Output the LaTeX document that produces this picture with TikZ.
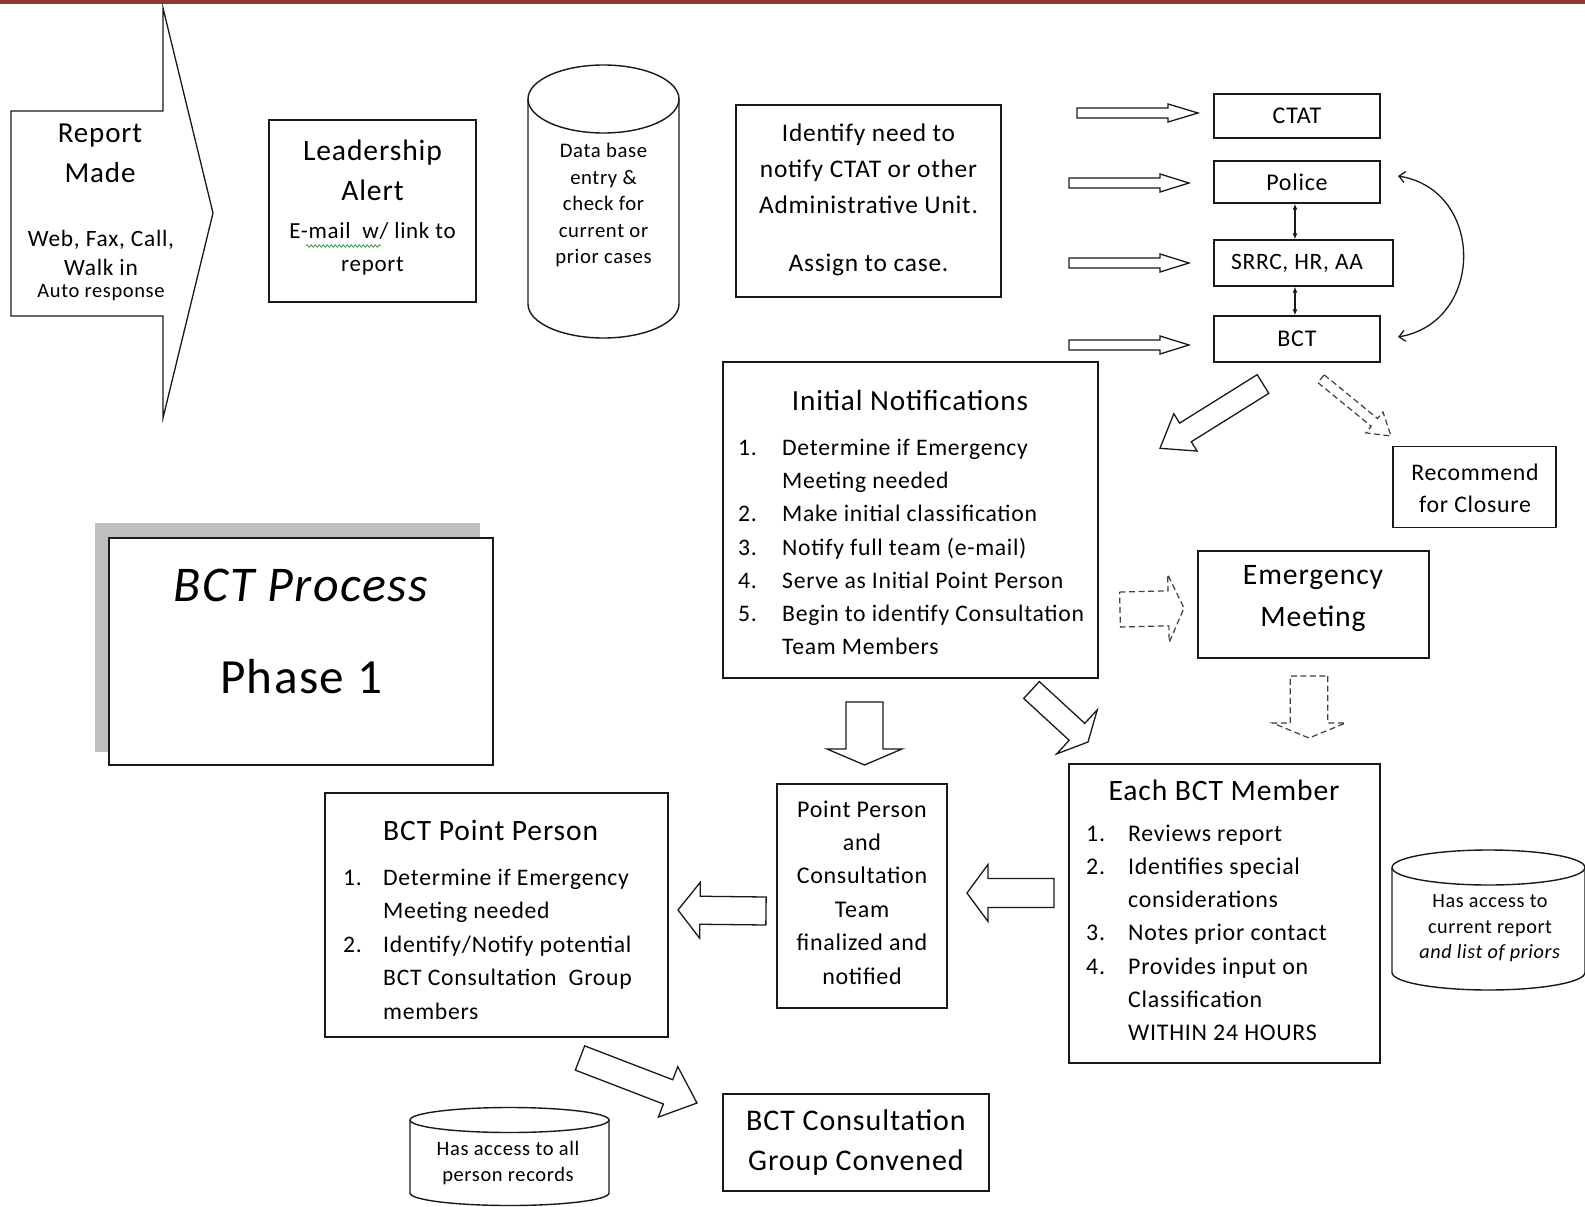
\documentclass[tikz,border=0pt]{standalone}
\usepackage{fontspec}
\setmainfont{Carlito}[LetterSpace=3]
\usetikzlibrary{calc,arrows.meta,decorations.pathmorphing}
\newcommand{\myfs}[2]{\fontsize{#1}{#2}\selectfont}
\newcommand{\lnum}[2]{\makebox[#1][l]{#2}}
\newcommand{\blockarr}[6]{%
  \path (#2) coordinate (ba-s) (#3) coordinate (ba-e);
  \path ($(ba-e)!#6!(ba-s)$) coordinate (ba-h);
  \draw[#1] ($(ba-s)!#4!90:(ba-e)$) -- ($(ba-h)!#4!-90:(ba-s)$) -- ($(ba-h)!#5!-90:(ba-s)$) -- (ba-e) -- ($(ba-h)!#5!90:(ba-s)$) -- ($(ba-h)!#4!90:(ba-s)$) -- ($(ba-s)!#4!-90:(ba-e)$) -- cycle;}
\definecolor{topred}{RGB}{148,54,52}
\definecolor{lineclr}{RGB}{25,25,25}
\definecolor{shadowgray}{RGB}{191,191,191}
\definecolor{spellgreen}{RGB}{60,170,60}
\tikzset{
  bx/.style={draw=lineclr, line width=1.4pt, inner sep=0pt, fill=white},
  tx/.style={inner sep=0pt, align=center, text=black},
  txl/.style={inner sep=0pt, align=left, anchor=west, text=black},
  barrow/.style={draw=lineclr, line width=1.3pt, fill=white, line join=miter},
  darrow/.style={draw=black!75, line width=1.2pt, dash pattern=on 6pt off 3.5pt, line join=miter},
  tinytip/.style={{Latex[length=6pt,width=5pt]}-{Latex[length=6pt,width=5pt]}, line width=1.3pt, draw=lineclr},
  curvtip/.style={{Straight Barb[length=6pt,width=11pt]}-{Straight Barb[length=6pt,width=11pt]}, line width=1.3pt, draw=lineclr},
}
\begin{document}
\begin{tikzpicture}[x=1pt,y=-1pt]
\useasboundingbox (0,0) rectangle (1585,1207);
\fill[white] (0,0) rectangle (1585,1207);
\fill[topred] (0,0) rectangle (1585,4);

% Report Made block arrow
\draw[barrow] (11,111) -- (163,111) -- (163,8) -- (213,213) -- (163,418) -- (163,316) -- (11,316) -- cycle;
\node[tx, font=\myfs{29}{40}] (rmt) at (100,153) {Report\\Made};
\node[tx, font=\myfs{23.4}{29}] (rms) at (101,252.5) {Web, Fax, Call,\\Walk in};
\node[tx, font=\myfs{20.5}{24}] (rma) at (101,293) {Auto response};

% Leadership Alert
\node[bx, minimum width=207pt, minimum height=182pt] (lead) at (372.5,211) {};
\node[tx, font=\myfs{29.6}{40}] (leadt) at (372.5,170) {Leadership\\Alert};
\node[tx, font=\myfs{23}{33}] (leads) at (372.5,248.5) {E-mail\ \ w/ link to\\report};
\draw[spellgreen, line width=0.9pt, decorate, decoration={snake, amplitude=1.2pt, segment length=4pt}] (306,246) -- (381,246);

% Database cylinder
\draw[lineclr, line width=1.4pt, fill=white] (528,99) -- (528,304) arc[start angle=180, end angle=360, x radius=75.5pt, y radius=34pt] -- (679,99);
\draw[lineclr, line width=1.4pt] (603.5,99) ellipse [x radius=75.5pt, y radius=34pt];
\node[tx, font=\myfs{20.7}{26.5}] (dbt) at (603.5,205) {Data base\\entry \&\\check for\\current or\\prior cases};

% Identify box
\node[bx, minimum width=265pt, minimum height=192pt] (ident) at (868.5,201) {};
\node[tx, font=\myfs{25.4}{36}] (idt) at (868.5,169) {Identify need to\\notify CTAT or other\\Administrative Unit.};
\node[tx, font=\myfs{25.4}{30}] (ida) at (868.5,265) {Assign to case.};

% Right column boxes
\node[bx, minimum width=166pt, minimum height=44pt, font=\myfs{24}{27}] (ctat) at (1297,116) {CTAT};
\node[bx, minimum width=166pt, minimum height=42pt, font=\myfs{24}{27}] (police) at (1297,182) {Police};
\node[bx, minimum width=179pt, minimum height=46pt] (srrc) at (1303.5,263) {};
\node[tx, font=\myfs{23.5}{27}] (srrct) at (1297,263) {SRRC, HR, AA};
\node[bx, minimum width=166pt, minimum height=46pt, font=\myfs{24}{27}] (bct) at (1297,339) {BCT};

\draw[tinytip] (police.south -| 1295,0) -- (srrc.north -| 1295,0);
\draw[tinytip] (srrc.south -| 1295,0) -- (bct.north -| 1295,0);

\coordinate (ca) at (1398,176);
\coordinate (cb) at (1398,337);
\draw[curvtip] (ca) .. controls (1485,190) and (1485,322) .. (cb);

% thin arrows into right column
\coordinate (a1s) at (1077,113); \coordinate (a1e) at (1198,113);
\coordinate (a2s) at (1069,183); \coordinate (a2e) at (1189,183);
\coordinate (a3s) at (1069,263); \coordinate (a3e) at (1189,263);
\coordinate (a4s) at (1069,345); \coordinate (a4e) at (1189,345);
\blockarr{barrow}{a1s}{a1e}{5pt}{9pt}{30pt}
\blockarr{barrow}{a2s}{a2e}{5pt}{9pt}{29pt}
\blockarr{barrow}{a3s}{a3e}{5pt}{9pt}{29pt}
\blockarr{barrow}{a4s}{a4e}{5pt}{9pt}{29pt}

% Initial Notifications
\node[bx, minimum width=375pt, minimum height=316pt] (initn) at (910.5,520) {};
\node[tx, font=\myfs{29.2}{33}] (int) at (910,400) {Initial Notifications};
\node[txl, font=\myfs{23.7}{33.2}] (inl) at (738,547) {%
\lnum{44pt}{1.}Determine if Emergency\\
\hspace*{44pt}Meeting needed\\
\lnum{44pt}{2.}Make initial classification\\
\lnum{44pt}{3.}Notify full team (e-mail)\\
\lnum{44pt}{4.}Serve as Initial Point Person\\
\lnum{44pt}{5.}Begin to identify Consultation\\
\hspace*{44pt}Team Members};

% arrows from BCT
\coordinate (b1s) at (1263,384); \coordinate (b1e) at (1160,448.3);
\blockarr{barrow}{b1s}{b1e}{11pt}{22pt}{30pt}
\coordinate (b2s) at (1321,378.7); \coordinate (b2e) at (1391,436);
\blockarr{darrow}{b2s}{b2e}{5pt}{13.5pt}{21.5pt}

% Recommend for Closure
\node[bx, minimum width=163pt, minimum height=80.6pt] (recom) at (1474.5,487) {};
\node[tx, font=\myfs{23.8}{32.3}] (rct) at (1475,488) {Recommend\\for Closure};

% Emergency Meeting
\node[bx, minimum width=231pt, minimum height=107pt] (emerg) at (1313.5,604.5) {};
\node[tx, font=\myfs{29.7}{42}] (emt) at (1313,599) {Emergency\\Meeting};
\coordinate (c1s) at (1120,609.5); \coordinate (c1e) at (1184,608);
\blockarr{darrow}{c1s}{c1e}{17.5pt}{34pt}{15.6pt}
\coordinate (c2s) at (1309,676); \coordinate (c2e) at (1309,738);
\blockarr{darrow}{c2s}{c2e}{18.75pt}{36.5pt}{15pt}

% arrows below Initial Notifications
\coordinate (d1s) at (864.5,702); \coordinate (d1e) at (864.5,765);
\blockarr{barrow}{d1s}{d1e}{18.5pt}{37.5pt}{16pt}
\coordinate (d2s) at (1031.5,690); \coordinate (d2e) at (1088,742);
\blockarr{barrow}{d2s}{d2e}{11.5pt}{30pt}{15pt}

% Point Person and Consultation Team
\node[bx, minimum width=170pt, minimum height=224pt] (ppct) at (862,896) {};
\node[tx, font=\myfs{24}{33.4}] (ppt) at (862,892.5) {Point Person\\and\\Consultation\\Team\\finalized and\\notified};

% Each BCT Member
\node[bx, minimum width=311pt, minimum height=299pt] (each) at (1224.5,913.5) {};
\node[tx, font=\myfs{29.6}{33}] (ebt) at (1224,790) {Each BCT Member};
\node[txl, font=\myfs{23.9}{33.2}] (ebl) at (1086,932.7) {%
\lnum{42pt}{1.}Reviews report\\
\lnum{42pt}{2.}Identifies special\\
\hspace*{42pt}considerations\\
\lnum{42pt}{3.}Notes prior contact\\
\lnum{42pt}{4.}Provides input on\\
\hspace*{42pt}Classification\\
\hspace*{42pt}WITHIN 24 HOURS};

% right cylinder
\draw[lineclr, line width=1.4pt, fill=white] (1392,867.5) -- (1392,972.5) arc[start angle=180, end angle=360, x radius=96.5pt, y radius=17.5pt] -- (1585,867.5);
\draw[lineclr, line width=1.4pt] (1488.5,867.5) ellipse [x radius=96.5pt, y radius=17.5pt];
\node[tx, font=\myfs{20.2}{25.5}] (cyl2t) at (1490,928.5) {Has access to\\current report\\\textit{and list of priors}};

% arrows between lower boxes
\coordinate (e1s) at (1054,893); \coordinate (e1e) at (967,893);
\blockarr{barrow}{e1s}{e1e}{14.5pt}{28.5pt}{21pt}
\coordinate (e2s) at (766,911); \coordinate (e2e) at (678,910);
\blockarr{barrow}{e2s}{e2e}{14pt}{28pt}{22pt}

% BCT Point Person
\node[bx, minimum width=343pt, minimum height=244pt] (bctpp) at (496.5,915) {};
\node[txl, font=\myfs{29.5}{33}] (bppt) at (383,830) {BCT Point Person};
\node[txl, font=\myfs{23.7}{33.5}] (bppl) at (343,944) {%
\lnum{40pt}{1.}Determine if Emergency\\
\hspace*{40pt}Meeting needed\\
\lnum{40pt}{2.}Identify/Notify potential\\
\hspace*{40pt}BCT Consultation\ \ Group\\
\hspace*{40pt}members};

% arrow to consultation group
\coordinate (f1s) at (580,1058); \coordinate (f1e) at (697,1103);
\blockarr{barrow}{f1s}{f1e}{13pt}{27pt}{31pt}

% small cylinder
\draw[lineclr, line width=1.4pt, fill=white] (410,1120) -- (410,1193) arc[start angle=180, end angle=360, x radius=99.5pt, y radius=12.5pt] -- (609,1120);
\draw[lineclr, line width=1.4pt] (509.5,1120) ellipse [x radius=99.5pt, y radius=12.5pt];
\node[tx, font=\myfs{20.5}{26}] (cyl3t) at (508,1163) {Has access to all\\person records};

% BCT Consultation Group Convened
\node[bx, minimum width=266pt, minimum height=97pt] (cgc) at (856,1142.5) {};
\node[tx, font=\myfs{30}{40}] (cgct) at (856,1142) {BCT Consultation\\Group Convened};

% BCT Process Phase 1
\fill[shadowgray] (95,523) rectangle (480,752);
\node[bx, minimum width=384pt, minimum height=227pt] (proc) at (301,651.5) {};
\node[tx, font=\myfs{50}{56}\itshape] (proct1) at (301,585) {BCT Process};
\node[tx, font=\myfs{49.2}{56}] (proct2) at (301,677) {Phase 1};
\end{tikzpicture}
\end{document}
